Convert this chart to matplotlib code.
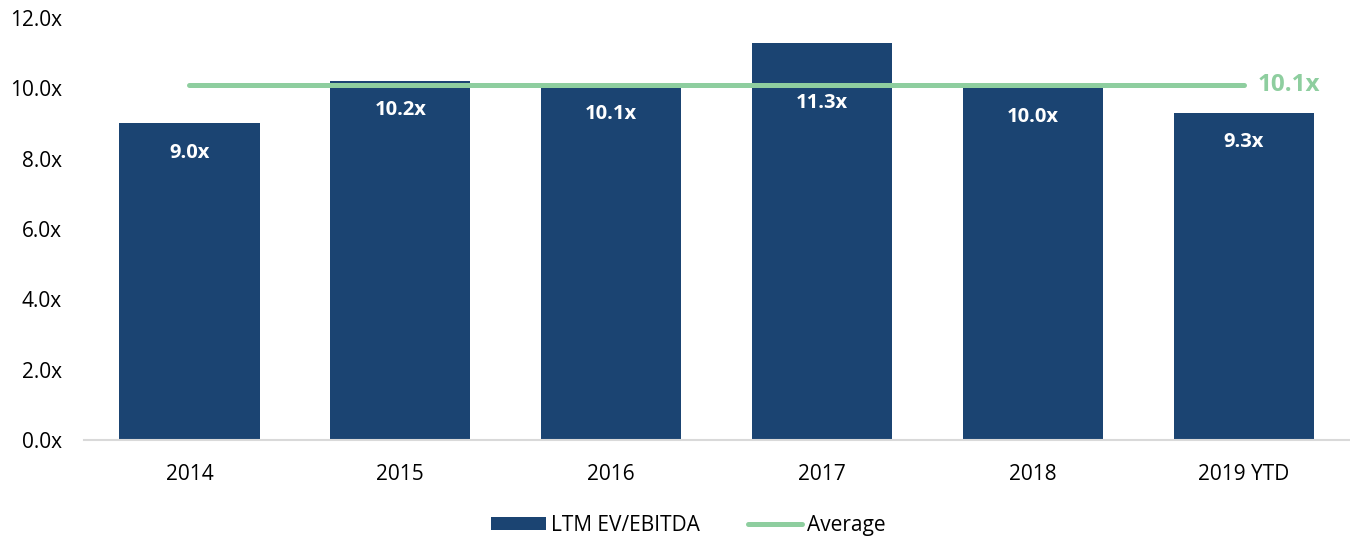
import matplotlib.pyplot as plt
from matplotlib.patches import Patch
from matplotlib.lines import Line2D

plt.rcParams['font.family'] = ['Open Sans', 'DejaVu Sans']

# Data
years = ["2014", "2015", "2016", "2017", "2018", "2019 YTD"]
multiples = [9.0, 10.2, 10.1, 11.3, 10.0, 9.3]
average = 10.1
y_ticks = [0, 2, 4, 6, 8, 10, 12]

bar_color = "#1B4472"
avg_color = "#8ECE9F"

fig = plt.figure(figsize=(13.5, 5.39), dpi=100)
ax = fig.add_axes([0.0622, 0.1837, 0.9374, 0.7829])

x = range(len(years))
ax.bar(x, multiples, width=0.665, color=bar_color, zorder=2)
ax.plot([0, len(years) - 1], [average, average], color=avg_color, lw=3.6,
        solid_capstyle="round", zorder=3)

# labels inside bars, kept below the average line when the bar is much taller
for i, v in enumerate(multiples):
    ypos = min(v, average + 0.3)
    ax.annotate(f"{v:.1f}x", (i, ypos), xytext=(0, -21), textcoords="offset points",
                ha="center", va="center", color="white", fontsize=14.5, fontweight="bold",
                zorder=4)

ax.annotate(f"{average:.1f}x", (len(years) - 1, average), xytext=(10, 0),
            textcoords="offset points", ha="left", va="center", color=avg_color,
            fontsize=17.5, fontweight="bold")

ax.set_xlim(-0.5, len(years) - 0.5)
ax.set_ylim(0, 12)
ax.set_yticks(y_ticks)
ax.set_yticklabels([f"{t:.1f}x" for t in y_ticks], fontsize=15)
ax.set_xticks(list(x))
ax.set_xticklabels(years, fontsize=15)
ax.tick_params(axis="both", length=0)
ax.tick_params(axis="x", pad=17)
ax.tick_params(axis="y", pad=16)

for s in ["top", "right", "left"]:
    ax.spines[s].set_visible(False)
ax.spines["bottom"].set_color("#D9D9D9")
ax.spines["bottom"].set_linewidth(1.5)

handles = [Patch(facecolor=bar_color, label="LTM EV/EBITDA"),
           Line2D([0], [0], color=avg_color, lw=3.6, solid_capstyle="round", label="Average")]
fig.legend(handles=handles, loc="center", bbox_to_anchor=(0.51, 0.025), ncol=2,
           frameon=False, fontsize=15, handlelength=2.6, handleheight=0.6,
           handletextpad=0.25, columnspacing=2.3)

fig.savefig("out.png", dpi=100)
